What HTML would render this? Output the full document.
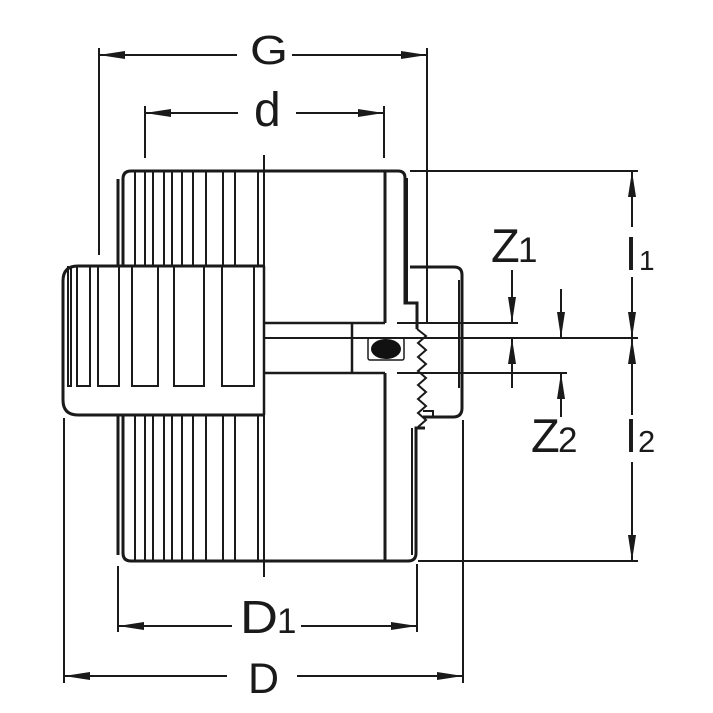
<!DOCTYPE html>
<html><head><meta charset="utf-8"><style>
html,body{margin:0;padding:0;background:#fff;}
svg{display:block;}
text{font-family:"Liberation Sans",Arial,sans-serif;fill:#1a1a1a;}
</style></head><body>
<svg width="713" height="713" viewBox="0 0 713 713" xmlns="http://www.w3.org/2000/svg">
<rect width="713" height="713" fill="#fff"/>
<g stroke="#1a1a1a" fill="none" stroke-linecap="butt">
<!-- G dimension -->
<line x1="99" y1="48" x2="99" y2="255" stroke-width="2"/>
<line x1="427" y1="48" x2="427" y2="323" stroke-width="2"/>
<line x1="99" y1="55" x2="237" y2="55" stroke-width="2"/>
<line x1="292" y1="55" x2="427" y2="55" stroke-width="2"/>
<!-- d dimension -->
<line x1="145" y1="106" x2="145" y2="158" stroke-width="2"/>
<line x1="384" y1="106" x2="384" y2="158" stroke-width="2"/>
<line x1="145" y1="113" x2="238" y2="113" stroke-width="2"/>
<line x1="296" y1="113" x2="384" y2="113" stroke-width="2"/>
<!-- center line -->
<line x1="264" y1="155" x2="264" y2="577" stroke-width="2"/>
<!-- D1 dimension -->
<line x1="118" y1="566" x2="118" y2="632" stroke-width="2"/>
<line x1="417" y1="564" x2="417" y2="632" stroke-width="2"/>
<line x1="118" y1="626" x2="232" y2="626" stroke-width="2"/>
<line x1="301" y1="626" x2="417" y2="626" stroke-width="2"/>
<!-- D dimension -->
<line x1="64" y1="418" x2="64" y2="683" stroke-width="2"/>
<line x1="463" y1="420" x2="463" y2="683" stroke-width="2"/>
<line x1="64" y1="676" x2="227" y2="676" stroke-width="2"/>
<line x1="297" y1="676" x2="463" y2="676" stroke-width="2"/>
<!-- l1 / l2 -->
<line x1="410" y1="171" x2="638" y2="171" stroke-width="2"/>
<line x1="264" y1="338" x2="638" y2="338" stroke-width="2"/>
<line x1="418" y1="561" x2="638" y2="561" stroke-width="2"/>
<line x1="632" y1="171" x2="632" y2="227" stroke-width="2"/>
<line x1="632" y1="277" x2="632" y2="338" stroke-width="2"/>
<line x1="632" y1="338" x2="632" y2="415" stroke-width="2"/>
<line x1="632" y1="462" x2="632" y2="561" stroke-width="2"/>
<!-- Z1 / Z2 -->
<line x1="397" y1="323" x2="518" y2="323" stroke-width="2"/>
<line x1="397" y1="373" x2="567" y2="373" stroke-width="2"/>
<line x1="512" y1="270" x2="512" y2="323" stroke-width="2"/>
<line x1="512" y1="338" x2="512" y2="388" stroke-width="2"/>
<line x1="561" y1="289" x2="561" y2="338" stroke-width="2"/>
<line x1="561" y1="373" x2="561" y2="417" stroke-width="2"/>

<!-- upper body -->
<path d="M123,266 V179 Q123,171 131,171 H398 Q405,171 405,178 V303 H417 V329" stroke-width="3"/>
<line x1="406" y1="178" x2="406" y2="303" stroke-width="4"/>
<line x1="118" y1="179" x2="118" y2="266" stroke-width="3"/>
<g stroke-width="2">
<line x1="135" y1="171" x2="135" y2="266"/><line x1="145" y1="171" x2="145" y2="266"/>
<line x1="153" y1="171" x2="153" y2="266"/><line x1="164" y1="171" x2="164" y2="266"/>
<line x1="172" y1="171" x2="172" y2="266"/><line x1="182" y1="171" x2="182" y2="266"/>
<line x1="193" y1="171" x2="193" y2="266"/><line x1="206" y1="171" x2="206" y2="266"/>
<line x1="223" y1="171" x2="223" y2="266"/><line x1="235" y1="171" x2="235" y2="266"/>
<line x1="258" y1="171" x2="258" y2="266"/>
<line x1="135" y1="415" x2="135" y2="561"/><line x1="145" y1="415" x2="145" y2="561"/>
<line x1="153" y1="415" x2="153" y2="561"/><line x1="164" y1="415" x2="164" y2="561"/>
<line x1="172" y1="415" x2="172" y2="561"/><line x1="182" y1="415" x2="182" y2="561"/>
<line x1="193" y1="415" x2="193" y2="561"/><line x1="206" y1="415" x2="206" y2="561"/>
<line x1="223" y1="415" x2="223" y2="561"/><line x1="235" y1="415" x2="235" y2="561"/>
<line x1="258" y1="415" x2="258" y2="561"/>
</g>
<!-- bore lines -->
<line x1="385" y1="171" x2="385" y2="323" stroke-width="3"/>
<line x1="385" y1="373" x2="385" y2="561" stroke-width="3"/>
<line x1="264" y1="323" x2="385" y2="323" stroke-width="2.5"/>
<line x1="264" y1="373" x2="385" y2="373" stroke-width="2.5"/>
<line x1="352" y1="323" x2="352" y2="373" stroke-width="2.5"/>
<rect x="368" y="338" width="36" height="22" rx="2" stroke-width="1.5"/>

<!-- nut -->
<path d="M264,266 H78 Q63,266 63,281 V400 Q63,415 78,415 H264" stroke-width="3"/>
<line x1="264" y1="266" x2="264" y2="415" stroke-width="2.5"/>
<g stroke-width="2">
<path d="M68,266 V386 H71 V266"/>
<path d="M77,266 V386 H90 V266"/>
<path d="M98,266 V386 H119 V266"/>
<path d="M132,266 V386 H158 V266"/>
<path d="M174,266 V386 H204 V266"/>
<path d="M222,266 V386 H254 V266"/>
</g>

<!-- lower body -->
<path d="M123,415 V553 Q123,561 131,561 H408 Q416,561 416,553 V428 H425" stroke-width="3"/>
<line x1="118" y1="415" x2="118" y2="555" stroke-width="3"/>
<line x1="412" y1="428" x2="412" y2="555" stroke-width="2"/>

<!-- right union end -->
<path d="M410,267 H454 Q462,267 462,275 V408 Q462,417 453,417 H423" stroke-width="3"/>
<line x1="459" y1="280" x2="459" y2="388" stroke-width="2"/>
<path d="M423,411 H433 V417" stroke-width="2"/>
<polyline points="417,329 426,336 418,343 426,350 418,357 426,364 418,371 426,378 418,385 426,392 418,399 426,406 418,413 426,420 418,427" stroke-width="2"/>
</g>

<ellipse cx="386" cy="349" rx="15" ry="10" fill="#111"/>

<!-- arrowheads -->
<g fill="#1a1a1a">
<polygon points="99,55 125,51 125,59"/><polygon points="427,55 401,51 401,59"/>
<polygon points="145,113 171,109 171,117"/><polygon points="384,113 358,109 358,117"/>
<polygon points="118,626 144,622 144,630"/><polygon points="417,626 391,622 391,630"/>
<polygon points="64,676 90,672 90,680"/><polygon points="463,676 437,672 437,680"/>
<polygon points="632,171 628,197 636,197"/><polygon points="632,338 628,312 636,312"/>
<polygon points="632,338 628,364 636,364"/><polygon points="632,561 628,535 636,535"/>
<polygon points="512,323 508,297 516,297"/><polygon points="512,338 508,364 516,364"/>
<polygon points="561,338 557,312 565,312"/><polygon points="561,373 557,399 565,399"/>
</g>

<!-- labels -->
<text x="250" y="64" font-size="41" textLength="38" lengthAdjust="spacingAndGlyphs">G</text>
<text x="254" y="126" font-size="48">d</text>
<text x="240" y="633" font-size="46" textLength="38" lengthAdjust="spacingAndGlyphs">D</text>
<text x="277" y="633" font-size="35">1</text>
<text x="248" y="693" font-size="43">D</text>
<text x="491" y="262" font-size="47">Z</text>
<text x="518" y="262" font-size="35">1</text>
<text x="531" y="452" font-size="47">Z</text>
<text x="558" y="452" font-size="35">2</text>
<text x="626" y="270" font-size="45">l</text>
<text x="639" y="270" font-size="28">1</text>
<text x="626" y="452" font-size="45">l</text>
<text x="638" y="452" font-size="31">2</text>
</svg>
</body></html>
